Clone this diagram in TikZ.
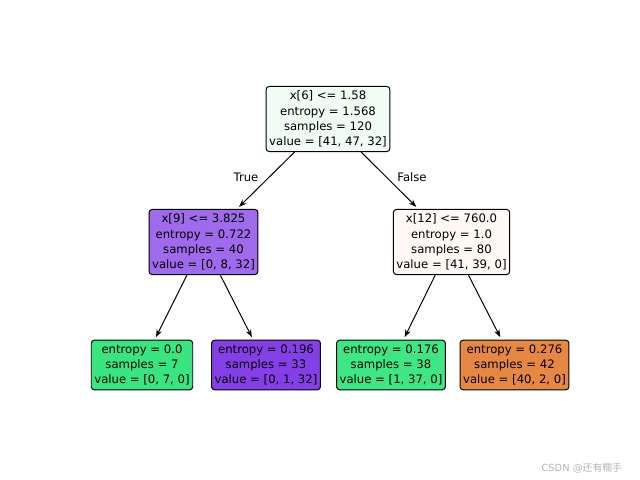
\documentclass[tikz,border=0pt]{standalone}
\usepackage{fontspec}
\setmainfont{DejaVu Sans}
\newfontfamily\cjk{Noto Sans CJK SC}
\usetikzlibrary{arrows.meta,calc}
\usepackage{xcolor}
\definecolor{rootfill}{HTML}{F0FDF5}
\definecolor{midpurple}{HTML}{A06AEC}
\definecolor{midorange}{HTML}{FEF9F5}
\definecolor{leafgreen}{HTML}{39E581}
\definecolor{leafpurple}{HTML}{853FE6}
\definecolor{leafgreenb}{HTML}{3EE684}
\definecolor{leaforange}{HTML}{E68743}
\definecolor{wmgray}{HTML}{B4B4B4}
\tikzset{
  box/.style={draw=black, rounded corners=2.2pt, line width=0.7pt, align=center, inner xsep=2.2pt, inner ysep=3.1pt, font=\fontsize{8.3}{10.9}\selectfont},
  arrow/.style={-{Stealth[length=5.5pt,width=4pt]}, line width=0.7pt, draw=black, shorten >=2pt},
  edgelabel/.style={font=\fontsize{8.3}{10.9}\selectfont}
}

\begin{document}
\begin{tikzpicture}[x=0.025cm, y=-0.025cm]
  \useasboundingbox (0,0) rectangle (640,480);
  \node[box, fill=rootfill] (root) at (328,119) {x[6] <= 1.58\\entropy = 1.568\\samples = 120\\value = [41, 47, 32]};
  \node[box, fill=midpurple] (left) at (203.5,242) {x[9] <= 3.825\\entropy = 0.722\\samples = 40\\value = [0, 8, 32]};
  \node[box, fill=midorange] (right) at (451.5,242) {x[12] <= 760.0\\entropy = 1.0\\samples = 80\\value = [41, 39, 0]};
  \node[box, fill=leafgreen] (leafa) at (142,365) {entropy = 0.0\\samples = 7\\value = [0, 7, 0]};
  \node[box, fill=leafpurple] (leafb) at (266,365) {entropy = 0.196\\samples = 33\\value = [0, 1, 32]};
  \node[box, fill=leafgreenb] (leafc) at (391,365) {entropy = 0.176\\samples = 38\\value = [1, 37, 0]};
  \node[box, fill=leaforange] (leafd) at (514.5,365) {entropy = 0.276\\samples = 42\\value = [40, 2, 0]};
  \node[edgelabel] (truelbl) at (246,177) {True};
  \node[edgelabel] (falselbl) at (412,177) {False};
  \draw[arrow] (root) -- (left);
  \draw[arrow] (root) -- (right);
  \draw[arrow] (left) -- (leafa);
  \draw[arrow] (left) -- (leafb);
  \draw[arrow] (right) -- (leafc);
  \draw[arrow] (right) -- (leafd);
  % watermark
  \node[text=wmgray, font=\fontsize{7}{8}\selectfont, anchor=east] (mark) at (627,468) {CSDN @{\cjk 还有糯手}};
\end{tikzpicture}
\end{document}
